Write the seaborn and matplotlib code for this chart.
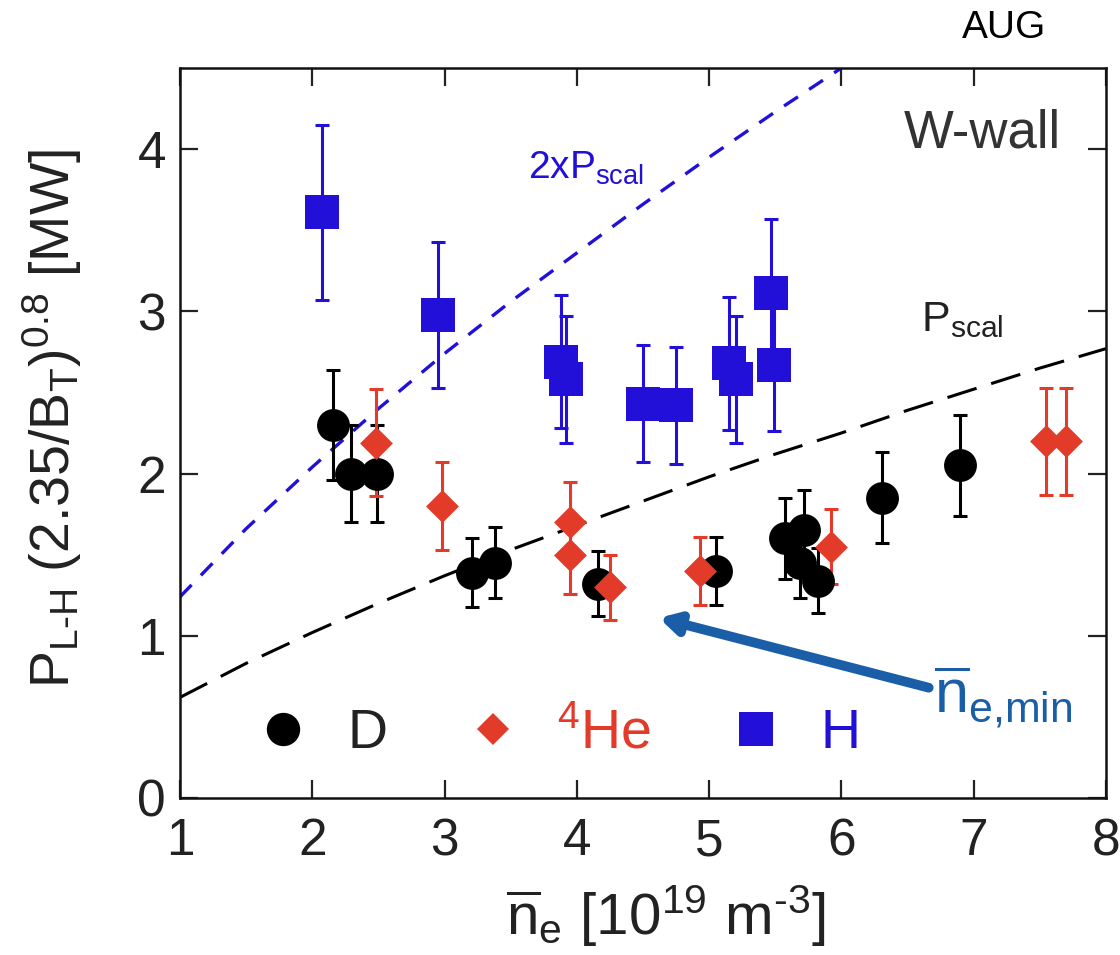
import numpy as np
import pandas as pd
import matplotlib
matplotlib.use("Agg")
import matplotlib.pyplot as plt
from matplotlib.lines import Line2D
import seaborn as sns

# ---- data ----
D_x = [2.16, 2.29, 2.49, 3.21, 3.38, 4.16, 5.05, 5.57, 5.72, 5.69, 5.82, 6.31, 6.90]
D_y = [2.30, 2.00, 2.00, 1.39, 1.45, 1.32, 1.40, 1.60, 1.65, 1.45, 1.34, 1.85, 2.05]
D_err = [0.34, 0.30, 0.30, 0.21, 0.22, 0.20, 0.21, 0.25, 0.25, 0.22, 0.20, 0.28, 0.31]

He_x = [2.48, 2.98, 3.95, 3.95, 4.25, 4.93, 5.92, 7.55, 7.70]
He_y = [2.19, 1.80, 1.70, 1.50, 1.30, 1.40, 1.55, 2.20, 2.20]
He_err = [0.33, 0.27, 0.25, 0.24, 0.20, 0.21, 0.23, 0.33, 0.33]

H_x = [2.07, 2.95, 3.88, 3.92, 4.50, 4.75, 5.15, 5.20, 5.47, 5.49]
H_y = [3.61, 2.98, 2.69, 2.58, 2.43, 2.42, 2.68, 2.58, 3.11, 2.67]
H_err = [0.54, 0.45, 0.41, 0.39, 0.36, 0.36, 0.41, 0.39, 0.46, 0.41]

Pscal_x = [1.0, 1.5, 2.0, 2.5, 3.0, 3.5, 4.0, 4.5, 5.0, 5.5, 6.0, 6.5, 7.0, 7.5, 8.0]
Pscal_y = [0.62, 0.83, 1.02, 1.20, 1.37, 1.53, 1.68, 1.83, 1.98, 2.12, 2.25, 2.39, 2.52, 2.65, 2.77]
P2scal_x = [1.0, 1.5, 2.0, 2.5, 3.0, 3.5, 4.0, 4.5, 5.0, 5.5, 6.0, 6.5]
P2scal_y = [1.24, 1.66, 2.04, 2.40, 2.74, 3.06, 3.36, 3.66, 3.95, 4.23, 4.50, 4.77]

x_ticks = [1, 2, 3, 4, 5, 6, 7, 8]
y_ticks = [0, 1, 2, 3, 4]

C_D = "#000000"
C_HE = "#e23b2a"
C_H = "#2210d8"
C_ARROW = "#1b5ea8"
C_TXT = "#222222"

sns.set_theme(style="ticks")
plt.rcParams["font.family"] = ["Liberation Sans", "DejaVu Sans"]
plt.rcParams["mathtext.fontset"] = "custom"
plt.rcParams["mathtext.rm"] = "Liberation Sans"
plt.rcParams["mathtext.it"] = "Liberation Sans"
plt.rcParams["mathtext.bf"] = "Liberation Sans"

fig = plt.figure(figsize=(11.2, 9.55), dpi=100)
ax = fig.add_axes([0.1607, 0.1644, 0.8268, 0.7644])

# scaling lines
sns.lineplot(x=Pscal_x, y=Pscal_y, ax=ax, color="black", lw=2.2,
             dashes=False, zorder=1)
ax.lines[-1].set_dashes((10, 5))
sns.lineplot(x=P2scal_x, y=P2scal_y, ax=ax, color=C_H, lw=2.4,
             dashes=False, zorder=1)
ax.lines[-1].set_dashes((5, 4))

# error bars
eb_kw = dict(fmt="none", elinewidth=2.2, capsize=5, capthick=2.2, zorder=2)
ax.errorbar(H_x, H_y, yerr=H_err, ecolor=C_H, **eb_kw)
ax.errorbar(D_x, D_y, yerr=D_err, ecolor=C_D, **eb_kw)
ax.errorbar(He_x, He_y, yerr=He_err, ecolor=C_HE, **eb_kw)

# markers
sns.scatterplot(x=H_x, y=H_y, ax=ax, marker="s", s=620, color=C_H,
                linewidth=0, zorder=3)
sns.scatterplot(x=D_x, y=D_y, ax=ax, marker="o", s=560, color=C_D,
                linewidth=0, zorder=4)
sns.scatterplot(x=He_x, y=He_y, ax=ax, marker="D", s=280, color=C_HE,
                linewidth=0, zorder=5)

ax.set_xlim(1, 8)
ax.set_ylim(0, 4.5)
ax.set_xticks(x_ticks)
ax.set_yticks(y_ticks)
ax.tick_params(direction="in", length=13, width=1.6, top=True, right=True,
               labelsize=37, colors=C_TXT)
ax.tick_params(axis="x", pad=14)
ax.tick_params(axis="y", pad=10)
for s in ax.spines.values():
    s.set_linewidth(1.8)
    s.set_color("#111111")

ax.set_xlabel(r"$\overline{\mathregular{n}}_{\mathregular{e}}$ [10$^{\mathregular{19}}$ m$^{\mathregular{\text{-}3}}$]",
              fontsize=42, color=C_TXT)
ax.set_ylabel(r"P$_{\mathregular{L\text{-}H}}$ (2.35/B$_{\mathregular{T}}$)$^{\mathregular{0.8}}$ [MW]",
              fontsize=40, color=C_TXT)
ax.xaxis.set_label_coords(0.525, -0.117)
ax.yaxis.set_label_coords(-0.104, 0.52)

# legend
handles = [
    Line2D([], [], ls="none", marker="o", ms=24, color=C_D, mew=0),
    Line2D([], [], ls="none", marker="D", ms=16.5, color=C_HE, mew=0),
    Line2D([], [], ls="none", marker="s", ms=24, color=C_H, mew=0),
]
labels = ["D", r"$\mathregular{^4}$He", "H"]
leg = ax.legend(handles, labels, ncol=3, loc="center",
                bbox_to_anchor=(0.405, 0.087), frameon=False, fontsize=40,
                handlelength=1.2, handletextpad=0.55, columnspacing=1.3)
for t, c in zip(leg.get_texts(), [C_TXT, C_HE, C_H]):
    t.set_color(c)

# annotations
ax.text(7.66, 4.01, "W-wall", fontsize=38, color="#333333", ha="right",
        va="baseline")
ax.text(3.63, 3.82, r"2xP$_{\mathregular{scal}}$", fontsize=28, color=C_H,
        ha="left", va="baseline")
ax.text(6.60, 2.88, r"P$_{\mathregular{scal}}$", fontsize=31, color=C_TXT,
        ha="left", va="baseline")
ax.annotate("", xy=(4.62, 1.11), xytext=(6.66, 0.68),
            arrowprops=dict(arrowstyle="-|>,head_length=0.9,head_width=0.5",
                            color=C_ARROW, lw=7, shrinkA=0, shrinkB=0))
ax.text(6.70, 0.52, r"$\overline{\mathregular{n}}_{\mathregular{e{,}min}}$",
        fontsize=44, color=C_ARROW, ha="left", va="baseline")
fig.text(0.934, 0.971, "AUG", fontsize=28, color="black", ha="right",
         va="center")

fig.savefig("out.png", dpi=100)
